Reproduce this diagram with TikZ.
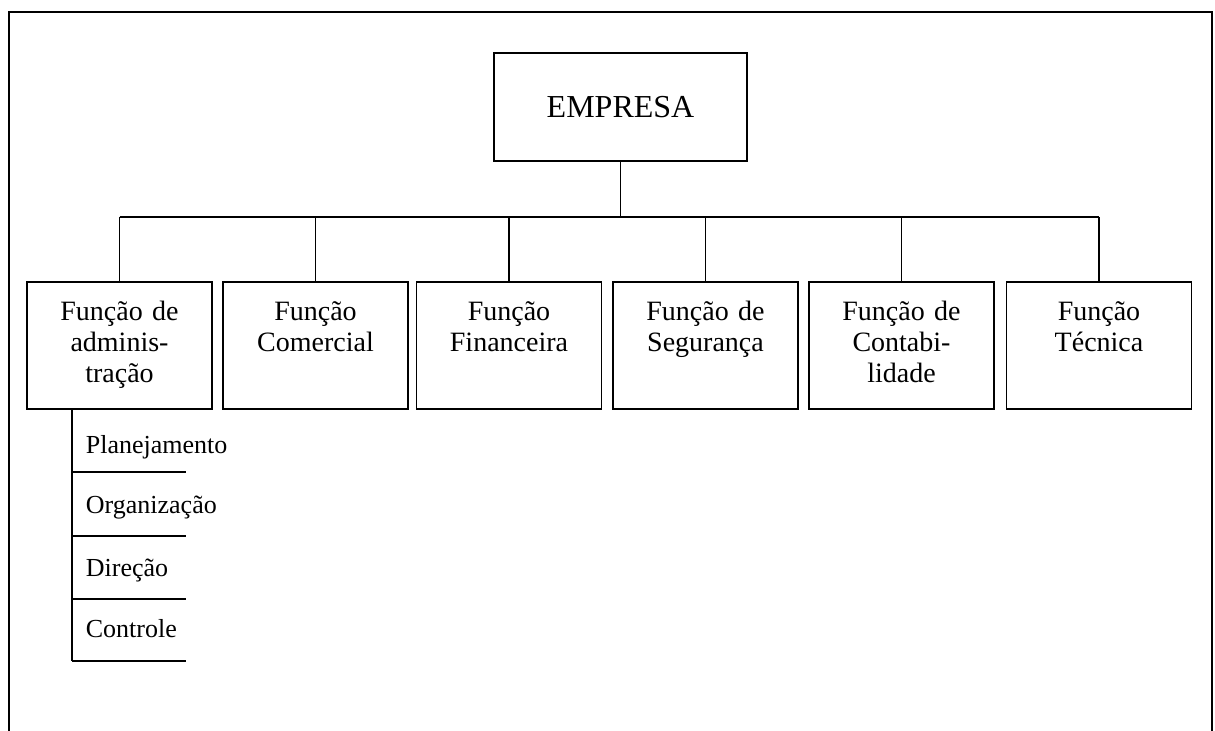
\documentclass[tikz,border=0pt]{standalone}
\usepackage{fontspec}
\setmainfont{Liberation Serif}

\tikzset{
  frame/.style={line width=1.1pt},
  topbox/.style={draw, minimum width=126.5pt, minimum height=54pt,
    inner sep=0pt, font=\fontsize{16}{19}\selectfont},
  funcbox/.style={draw, anchor=north, inner sep=0pt,
    minimum width=92.5pt, text width=92.5pt, align=center,
    text height=19.5pt, text depth=44pt,
    font=\fontsize{14}{15.5}\selectfont},
  item/.style={anchor=base west, inner sep=0pt, font=\fontsize{13}{15}\selectfont},
}

\begin{document}
\begin{tikzpicture}[x=0.5pt, y=-0.5pt, line width=0.9pt]

\useasboundingbox (0,0) rectangle (1215,731);

% outer frame (open at the bottom)
\draw[frame] (9,731) -- (9,12) -- (1212,12) -- (1212,731);

% top of the chart
\node[topbox] (emp) at (620.5,107) {EMPRESA};

% the six functions
\node[funcbox] (adm) at ( 119.5,281) {Função de\\adminis-\\tração};
\node[funcbox] (com) at ( 315.5,281) {Função\\Comercial};
\node[funcbox] (fin) at ( 509.0,281) {Função\\Financeira};
\node[funcbox] (seg) at ( 705.5,281) {Função de\\Segurança};
\node[funcbox] (con) at ( 901.5,281) {Função de\\Contabi-\\lidade};
\node[funcbox] (tec) at (1099.0,281) {Função\\Técnica};

% bus line
\coordinate (bus) at (0,217);
\draw (emp.south) -- (emp.south |- bus);
\draw (adm.north |- bus) -- (tec.north |- bus);
\foreach \f in {adm,com,fin,seg,con,tec}
  \draw (\f.north |- bus) -- (\f.north);

% parts of the administration function
\node[item] (plan) at (85,454) {Planejamento};
\node[item] (org)  at (85,514) {Organização};
\node[item] (dir)  at (85,576) {Direção};
\node[item] (ctl)  at (85,638) {Controle};

\coordinate (stem) at (72,661);
\draw (stem |- adm.south) -- (stem);
\foreach \y in {472,536,599,661}
  \draw (72,\y) -- (186,\y);

\end{tikzpicture}
\end{document}
